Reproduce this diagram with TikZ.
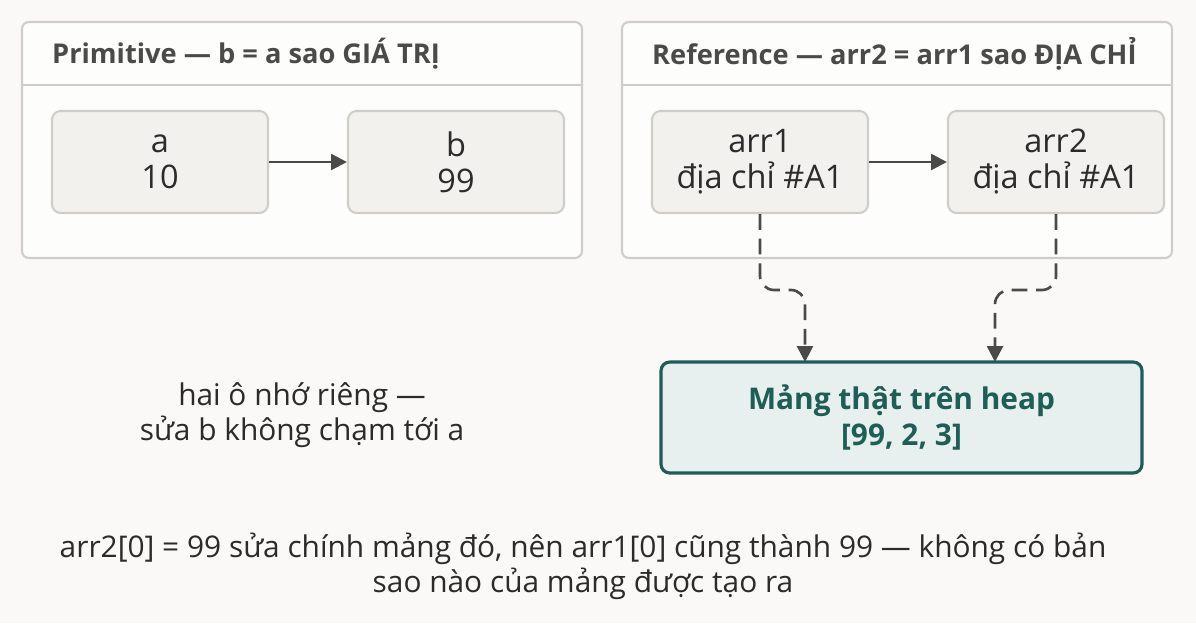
\documentclass[tikz,border=0pt]{standalone}
\usepackage{fontspec}
\setmainfont{Open Sans}
\usetikzlibrary{arrows.meta}
\definecolor{bg}{HTML}{FAF9F7}
\definecolor{panel}{HTML}{FDFDFC}
\definecolor{edge}{HTML}{CFCDC8}
\definecolor{cell}{HTML}{F2F1EE}
\definecolor{ink}{HTML}{2B2B2B}
\definecolor{muted}{HTML}{4A4A48}
\definecolor{teal}{HTML}{1F5E56}
\definecolor{tealbg}{HTML}{E7F0EE}
\tikzset{
  panel/.style={draw=edge, fill=panel, line width=1.2pt, rounded corners=4pt},
  cell/.style={draw=edge, fill=cell, line width=1.2pt, rounded corners=5pt,
    minimum width=216*0.02cm, minimum height=102*0.02cm, align=center,
    text=ink, font=\fontsize{18.5}{20.5}\selectfont},
  heap/.style={draw=teal, fill=tealbg, line width=1.8pt, rounded corners=5pt,
    minimum width=481*0.02cm, minimum height=111*0.02cm, align=center,
    text=teal, font=\fontsize{17}{20}\selectfont\bfseries},
  head/.style={anchor=west, text=muted, font=\fontsize{15.5}{18}\selectfont\bfseries},
  link/.style={draw=muted, line width=1.5pt, -{Triangle[length=9pt,width=9pt]}},
  ref/.style={link, dashed, dash pattern=on 9pt off 5pt, rounded corners=8pt},
  note/.style={text=ink, align=center, font=\fontsize{17}{20}\selectfont},
}
\begin{document}
\begin{tikzpicture}[x=0.02cm,y=-0.02cm]
  \fill[bg] (0,0) rectangle (1196,623);
  \useasboundingbox (0,0) rectangle (1196,623);

  % panels
  \draw[panel] (22,22) rectangle (582,258);
  \draw[edge, line width=1.2pt] (22,85) -- (582,85);
  \node[head] (hp) at (46,54) {Primitive — b = a sao GIÁ TRỊ};
  \draw[panel] (622,22) rectangle (1172,258);
  \draw[edge, line width=1.2pt] (622,85) -- (1172,85);
  \node[head] (hr) at (646,54) {Reference — arr2 = arr1 sao ĐỊA CHỈ};

  % cells
  \node[cell] (a) at (160,162) {a\\10};
  \node[cell] (b) at (456,162) {b\\99};
  \node[cell] (arr1) at (760,162) {arr1\\địa chỉ \#A1};
  \node[cell] (arr2) at (1056,162) {arr2\\địa chỉ \#A1};
  \node[heap] (mem) at (901.5,417.5) {Mảng thật trên heap\\{}[99, 2, 3]};

  \draw[link] (a) -- (b);
  \draw[link] (arr1) -- (arr2);
  \draw[ref] (arr1.south) -- (760,290) -- (805,290) -- (805,362);
  \draw[ref] (arr2.south) -- (1056,290) -- (995,290) -- (995,362);

  % notes
  \node[note] (n1) at (302,415) {hai ô nhớ riêng —\\sửa b không chạm tới a};
  \node[note] (n2) at (583,566) {arr2[0] = 99 sửa chính mảng đó, nên arr1[0] cũng thành 99 — không có bản\\sao nào của mảng được tạo ra};
\end{tikzpicture}
\end{document}
